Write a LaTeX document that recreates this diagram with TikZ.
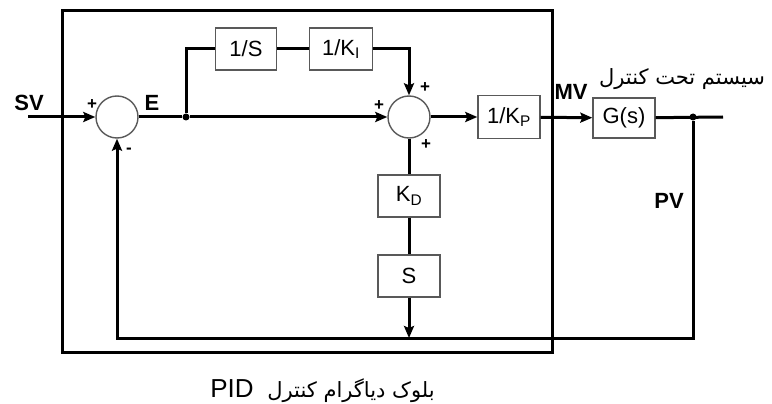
\documentclass[tikz,border=0pt]{standalone}
\usepackage{fontspec}
\setmainfont{Liberation Sans}
\newfontfamily\farsi[Script=Arabic]{DejaVu Sans}
\TeXXeTstate=1
\usetikzlibrary{arrows.meta}

\begin{document}
\begin{tikzpicture}[x=1pt,y=-1pt,
	blk/.style={draw=black!65,line width=1.4pt,minimum width=62pt,minimum height=42pt,inner sep=0pt,font=\fontsize{22}{22}\selectfont},
	sumnode/.style={circle,draw=black!65,line width=1.4pt,minimum size=42pt,inner sep=0pt},
	wire/.style={line width=3pt,black},
	sig/.style={wire,-{Stealth[length=12pt,width=10pt,inset=2pt]}},
	lbl/.style={font=\fontsize{22}{22}\selectfont\bfseries},
	sgn/.style={font=\fontsize{17}{17}\selectfont\bfseries},
	dot/.style={circle,fill=black,inner sep=0pt,minimum size=7pt}]
\useasboundingbox (0,0) rectangle (772,404);
% PID frame
\draw[line width=3pt] (62,11) rectangle (552,352);

% blocks
\node[sumnode] (sumA) at (117,117) {};
\node[sumnode] (sumB) at (409,117) {};
\node[blk,minimum width=61pt] (intS) at (246,49) {1/S};
\node[blk,minimum width=63pt] (intK) at (341,49) {1/K\textsubscript{I}};
\node[blk,minimum height=43pt] (kp) at (509,117) {1/K\textsubscript{P}};
\node[blk,minimum height=40pt] (plant) at (624,118) {G(s)};
\node[blk] (kd) at (409,196) {K\textsubscript{D}};
\node[blk] (der) at (409,276) {S};

% points
\coordinate (svin) at (28,117);
\node[dot] (br) at (186,117) {};
\node[dot] (pv) at (693,117) {};
\coordinate (yout) at (723,117);
\coordinate (fbr) at (693,338);
\coordinate (dj) at (409,338);

% labels
\node[lbl] (svl) at (29,103) {SV};
\node[lbl] (el) at (152,103) {E};
\node[lbl] (mvl) at (571,92) {MV};
\node[lbl] (pvl) at (669,201) {PV};
\node[sgn] (pA1) at (92,105) {+};
\node[sgn] (mA) at (129,151) {-};
\node[sgn] (pB1) at (379,106) {+};
\node[sgn] (pB2) at (425,88) {+};
\node[sgn] (pB3) at (426,145) {+};
\node (title) at (682,79) {\farsi\fontsize{21}{21}\selectfont\beginR سیستم تحت کنترل\endR};
\node (cap) at (351,391) {\farsi\fontsize{21}{21}\selectfont\beginR بلوک دیاگرام کنترل\endR};
\node[font=\fontsize{26}{26}\selectfont] (pidl) at (232,389) {PID};

% connectors
\draw[sig] (svin) -- (sumA);
\draw[wire] (sumA) -- (br);
\draw[sig] (br) -- (sumB);
\draw[wire] (br) |- (intS);
\draw[wire] (intS) -- (intK);
\draw[sig] (intK) -| (sumB);
\draw[sig] (sumB) -- (kp);
\draw[sig] (kp) -- (plant);
\draw[wire] (plant) -- (yout);
\draw[wire] (sumB) -- (kd);
\draw[wire] (kd) -- (der);
\draw[sig] (der) -- (dj);
\draw[sig] (pv) -- (fbr) -| (sumA);
\end{tikzpicture}
\end{document}
